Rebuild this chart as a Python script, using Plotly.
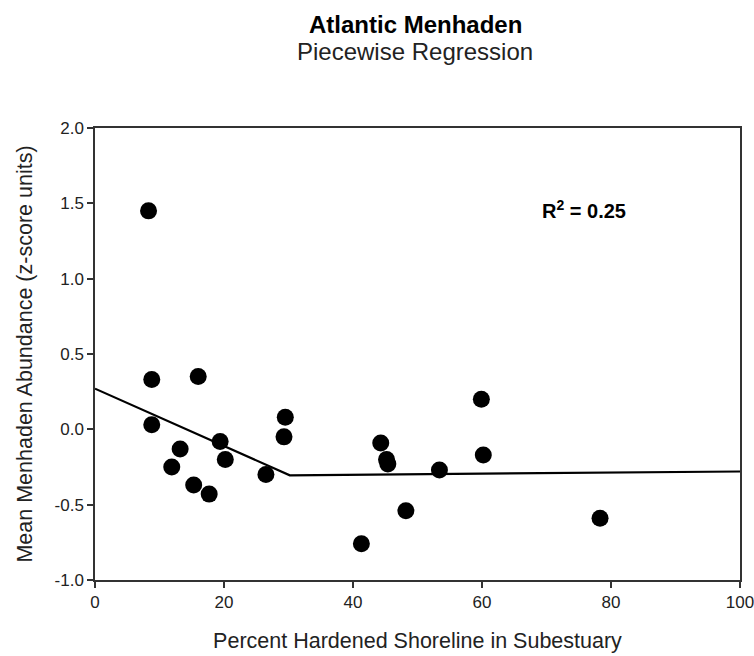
import plotly.graph_objects as go

pct_hardened = [8.3, 8.8, 16.0, 8.8, 13.2, 11.9, 15.3, 17.7, 19.4, 20.2, 26.5, 29.5, 29.3,
                59.9, 44.3, 45.2, 45.4, 53.4, 60.2, 48.2, 41.3, 78.3]
abundance = [1.45, 0.33, 0.35, 0.03, -0.13, -0.25, -0.37, -0.43, -0.08, -0.20, -0.30, 0.08, -0.05,
             0.20, -0.09, -0.20, -0.23, -0.27, -0.17, -0.54, -0.76, -0.59]
fit_x = [0, 30.2, 100]
fit_y = [0.27, -0.305, -0.28]
x_ticks = [0, 20, 40, 60, 80, 100]
y_ticks = [-1.0, -0.5, 0.0, 0.5, 1.0, 1.5, 2.0]
y_tick_labels = ["-1.0", "-0.5", "0.0", "0.5", "1.0", "1.5", "2.0"]

FONT = "Liberation Sans, Arial, sans-serif"
TXT = "#222"

fig = go.Figure()
fig.add_trace(go.Scatter(x=fit_x, y=fit_y, mode="lines",
                         line=dict(color="black", width=2.2), showlegend=False))
fig.add_trace(go.Scatter(x=pct_hardened, y=abundance, mode="markers",
                         marker=dict(color="black", size=17), showlegend=False))

axis_common = dict(showgrid=False, zeroline=False, showline=True, linecolor="#333",
                   linewidth=1.5, ticks="outside", ticklen=6, tickcolor="#333", tickwidth=1.5,
                   mirror=True, automargin=False, ticklabeloverflow="allow",
                   tickfont=dict(family=FONT, size=17, color=TXT))
fig.update_xaxes(range=[0, 100], tickvals=x_ticks,
                 title=dict(text="Percent Hardened Shoreline in Subestuary",
                            font=dict(family=FONT, size=21.5, color=TXT), standoff=22),
                 **axis_common)
fig.update_yaxes(range=[-1.0, 2.0], tickvals=y_ticks, ticktext=y_tick_labels,
                 title=dict(text="Mean Menhaden Abundance (z-score units)",
                            font=dict(family=FONT, size=21.5, color=TXT), standoff=16),
                 **axis_common)

def py(ypx):
    return (580 - ypx) / 452

def px(xpx):
    return (xpx - 95) / 645

fig.add_annotation(x=px(415), xref="paper", y=py(24), yref="paper",
                   text="<b>Atlantic Menhaden</b>", showarrow=False,
                   font=dict(family=FONT, size=24, color="black"), xanchor="center", yanchor="middle")
fig.add_annotation(x=px(415), xref="paper", y=py(52), yref="paper",
                   text="Piecewise Regression", showarrow=False,
                   font=dict(family=FONT, size=24, color=TXT), xanchor="center", yanchor="middle")
fig.add_annotation(x=75.8, y=1.46, xref="x", yref="y",
                   text="<b>R<sup>2</sup> = 0.25</b>", showarrow=False,
                   font=dict(family=FONT, size=20, color="black"), xanchor="center", yanchor="middle")

fig.update_layout(width=754, height=656, plot_bgcolor="white", paper_bgcolor="white",
                  margin=dict(l=95, r=14, t=128, b=76), showlegend=False)

fig.write_html("out.html")
